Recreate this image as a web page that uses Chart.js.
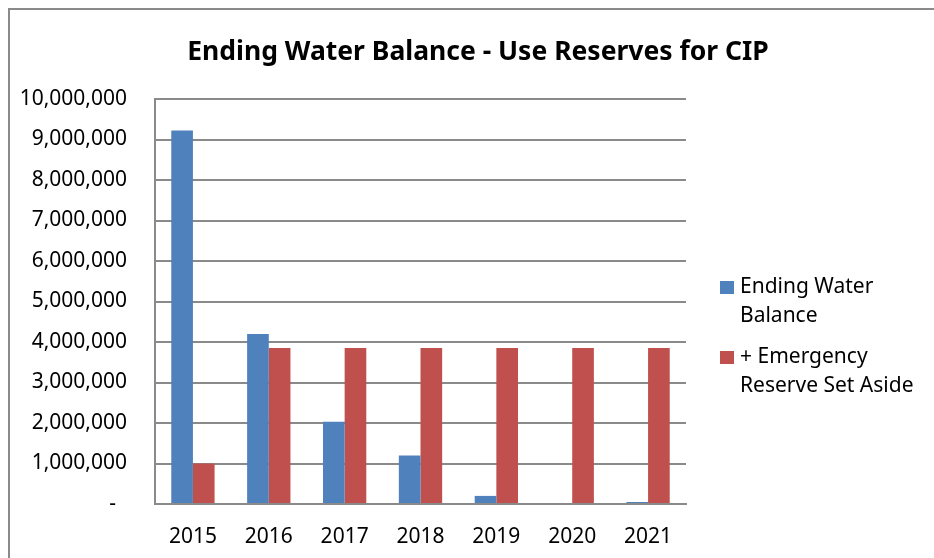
<!DOCTYPE html>
<html>
<head>
<meta charset="utf-8">
<script src="https://cdn.jsdelivr.net/npm/chart.js@4/dist/chart.umd.min.js"></script>
<style>
  html, body { margin: 0; padding: 0; background: #fff; overflow: hidden; }
  #wrap { position: absolute; left: 0; top: 0; width: 934px; height: 558px; }
  #frame { position: absolute; left: 8px; top: 8px; width: 1000px; height: 1000px;
           border-left: 2px solid #8a8a8a; border-top: 2px solid #8a8a8a; pointer-events: none; }
</style>
</head>
<body>
<div id="wrap"><canvas id="chart" width="934" height="558"></canvas></div>
<div id="frame"></div>
<script>
// chart data
const years = ["2015", "2016", "2017", "2018", "2019", "2020", "2021"];
const endingBalance = [9220000, 4200000, 2030000, 1200000, 200000, 0, 50000];
const emergencyReserve = [1000000, 3850000, 3850000, 3850000, 3850000, 3850000, 3850000];
const seriesLabels = [["Ending Water", "Balance"], ["+ Emergency", "Reserve Set Aside"]];
const titleText = "Ending Water Balance - Use Reserves for CIP";

const FONT = "'Noto Sans', 'DejaVu Sans', sans-serif";

// title across the whole frame, legend to the right of the plot
const sideText = {
  id: "sideText",
  afterDraw(chart) {
    const ctx = chart.ctx;
    ctx.save();
    ctx.fillStyle = "#000";
    ctx.textBaseline = "middle";
    ctx.textAlign = "center";
    ctx.font = "bold 26.5px " + FONT;
    ctx.fillText(titleText, 478, 52);

    ctx.textAlign = "left";
    ctx.font = "21px " + FONT;
    const x = 720, tops = [287, 357];
    chart.data.datasets.forEach((ds, i) => {
      ctx.fillStyle = ds.backgroundColor;
      ctx.fillRect(x, tops[i] - 6, 14, 13);
      ctx.fillStyle = "#000";
      seriesLabels[i].forEach((line, j) => ctx.fillText(line, x + 20, tops[i] + j * 29));
    });
    ctx.restore();
  }
};

new Chart(document.getElementById("chart"), {
  type: "bar",
  data: {
    labels: years,
    datasets: [
      { label: "Ending Water Balance", data: endingBalance, backgroundColor: "#4F81BD" },
      { label: "+ Emergency Reserve Set Aside", data: emergencyReserve, backgroundColor: "#C0504D" }
    ]
  },
  options: {
    responsive: false,
    animation: false,
    events: [],
    categoryPercentage: 0.571,
    barPercentage: 1.0,
    layout: { padding: { left: 0, right: 248, top: 99, bottom: 0 } },
    plugins: {
      legend: { display: false },
      tooltip: { enabled: false },
      title: { display: false }
    },
    scales: {
      x: {
        grid: { display: false, drawTicks: false },
        border: { display: true, color: "#8a8a8a", width: 2 },
        ticks: { color: "#000", font: { family: FONT, size: 21 }, padding: 20, maxRotation: 0 },
        afterFit(scale) { scale.height = 54; }
      },
      y: {
        min: 0,
        max: 10000000,
        grid: { color: "#8a8a8a", lineWidth: 2, drawTicks: false },
        border: { display: true, color: "#8a8a8a", width: 2 },
        ticks: {
          stepSize: 1000000,
          color: "#000",
          padding: 28,
          font: { family: FONT, size: 21 },
          callback: v => v === 0 ? "-  " : v.toLocaleString("en-US")
        },
        afterFit(scale) { scale.width = 155; }
      }
    }
  },
  plugins: [sideText]
});
</script>
</body>
</html>
